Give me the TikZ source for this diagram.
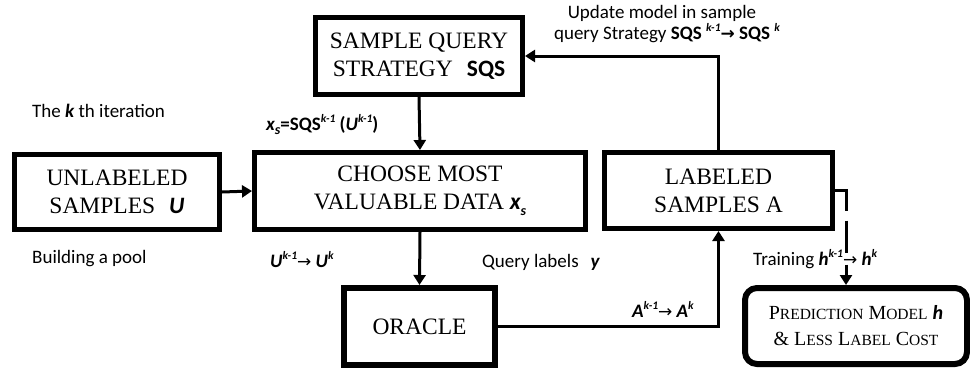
\documentclass[tikz,border=0pt]{standalone}
\usepackage{fontspec}
\setmainfont{Liberation Serif}
\newfontfamily\lblfont{Carlito}
\newfontfamily\arrowfont{DejaVu Sans}
\usetikzlibrary{arrows.meta}
\newcommand{\rarr}{{\arrowfont\fontsize{17}{17}\selectfont →}}
\newcommand{\supr}[1]{\raisebox{0.42em}{\fontsize{11.5}{11.5}\selectfont #1}}
\newcommand{\subr}[1]{\raisebox{-0.25em}{\fontsize{14}{14}\selectfont #1}}
\newcommand{\bi}[1]{{\bfseries\itshape #1}}
\newcommand{\fakesc}[2]{{\fontsize{20}{26}\selectfont #1}{\fontsize{15.5}{26}\selectfont #2}}
\tikzset{
  box/.style={draw, line width=5pt, inner sep=0pt, align=center,
    font=\fontsize{23.5}{28}\selectfont},
  lbl/.style={inner sep=0pt, anchor=base west, font=\lblfont\fontsize{19}{19}\selectfont},
  conn/.style={line width=3pt, -{Triangle[length=10pt,width=12pt]}},
}
\begin{document}
\begin{tikzpicture}[x=1pt,y=-1pt]
\useasboundingbox (0,0) rectangle (970,370);
% boxes
\node[box, minimum width=207pt, minimum height=77pt] (sqs) at (419,56)
  {SAMPLE QUERY\\STRATEGY\hspace{14pt}{\lblfont\bfseries SQS}};
\node[box, minimum width=205pt, minimum height=75pt] (unl) at (117,192)
  {UNLABELED\\SAMPLES\hspace{14pt}{\lblfont\bi{U}}};
\node[box, minimum width=331pt, minimum height=77pt] (cho) at (420,191)
  {CHOOSE MOST\\VALUABLE DATA {\lblfont\bi{x\subr{s}}}};
\node[box, minimum width=228pt, minimum height=76pt] (lab) at (718.5,190.5)
  {LABELED\\SAMPLES A};
\node[box, line width=6pt, minimum width=151pt, minimum height=77pt] (ora) at (419.5,326.5)
  {ORACLE};
\node[box, line width=6pt, rounded corners=12pt, minimum width=222pt, minimum height=76pt,
  font=\fontsize{20}{26}\selectfont] (pred) at (856,326)
  {\fakesc{P}{REDICTION} \fakesc{M}{ODEL} {\lblfont\bi{h}}\\
   \fakesc{\&}{} \fakesc{L}{ESS} \fakesc{L}{ABEL} \fakesc{C}{OST}};
% connectors
\draw[conn] (sqs.south) -- (cho.north);
\draw[conn] (unl.east) -- (cho.west);
\draw[conn] (cho.south) -- (ora.north);
\draw[conn] (ora.east) -| (lab.south);
\draw[conn] (lab.north) |- (sqs.east);
\coordinate (predin) at ([xshift=-10pt]pred.north);
\draw[conn, dash pattern=on 31pt off 10pt on 32pt off 12pt on 60pt] (lab.east) -| (predin);
% labels
\node[lbl, anchor=base] (l1) at (662,18) {Update model in sample};
\node[lbl, anchor=base] (l2) at (667,39) {query Strategy {\bfseries SQS \supr{\itshape k-1}\rarr\ SQS \supr{\itshape k}}};
\node[lbl] (l3) at (266,130) {{\bfseries\itshape x\subr{s}}{\bfseries =SQS\supr{\itshape k-1} (\textit{U}\supr{\itshape k-1})}};
\node[lbl] (l4) at (32,117) {The \bi{k} th iteration};
\node[lbl] (l5) at (32,263) {Building a pool};
\node[lbl] (l6) at (270,267) {\bi{U\supr{k-1}}\rarr\ \bi{U\supr{k}}};
\node[lbl] (l7) at (482,267) {Query labels\hspace{12pt}\bi{y}};
\node[lbl] (l8) at (632,317) {\bi{A\supr{k-1}}\rarr\ \bi{A\supr{k}}};
\node[lbl] (l9) at (753,265) {Training \bi{h\supr{k-1}}\rarr\ \bi{h\supr{k}}};
\end{tikzpicture}
\end{document}
